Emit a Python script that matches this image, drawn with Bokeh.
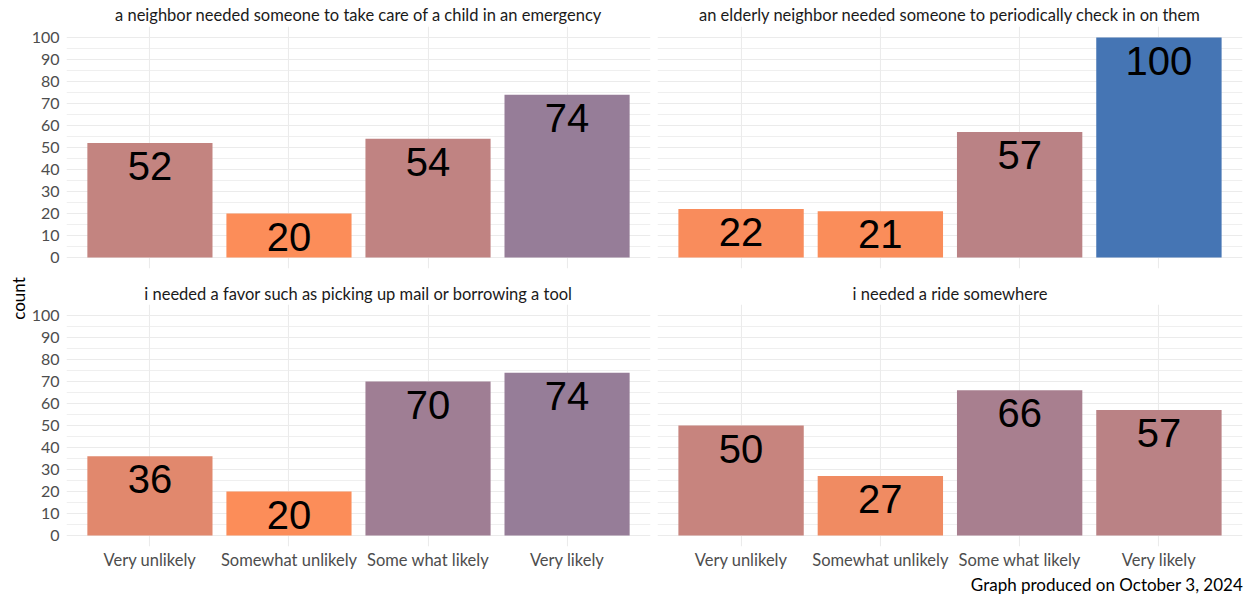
import math
from bokeh.plotting import figure
from bokeh.models import ColumnDataSource, FactorRange, Range1d, FixedTicker, Title
from bokeh.layouts import row, column
from bokeh.core.properties import value
from bokeh.embed import file_html
from bokeh.resources import INLINE

# ---------------- data ----------------
categories = ["Very unlikely", "Somewhat unlikely", "Some what likely", "Very likely"]
panel_titles = [
    "a neighbor needed someone to take care of a child in an emergency",
    "an elderly neighbor needed someone to periodically check in on them",
    "i needed a favor such as picking up mail or borrowing a tool",
    "i needed a ride somewhere",
]
counts_child = [52, 20, 54, 74]
counts_elderly = [22, 21, 57, 100]
counts_favor = [36, 20, 70, 74]
counts_ride = [50, 27, 66, 57]
all_counts = [counts_child, counts_elderly, counts_favor, counts_ride]
y_ticks = [0, 10, 20, 30, 40, 50, 60, 70, 80, 90, 100]
y_minor = [-5, 5, 15, 25, 35, 45, 55, 65, 75, 85, 95, 105]
y_label = "count"
caption = "Graph produced on October  3, 2024"
low_col, high_col = "#fc8d59", "#4575b4"

# ---------------- colour scale (Lab interpolation like ggplot) ----------------
def _hex2rgb(h):
    h = h.lstrip("#")
    return [int(h[i:i + 2], 16) / 255 for i in (0, 2, 4)]

def _lin(c):
    return c / 12.92 if c <= 0.04045 else ((c + 0.055) / 1.055) ** 2.4

def _delin(c):
    c = max(0.0, min(1.0, c))
    return 12.92 * c if c <= 0.0031308 else 1.055 * c ** (1 / 2.4) - 0.055

WX, WY, WZ = 0.95047, 1.0, 1.08883

def _rgb2lab(rgb):
    r, g, b = [_lin(c) for c in rgb]
    X = 0.4124 * r + 0.3576 * g + 0.1805 * b
    Y = 0.2126 * r + 0.7152 * g + 0.0722 * b
    Z = 0.0193 * r + 0.1192 * g + 0.9505 * b
    def f(t):
        return t ** (1 / 3) if t > 0.008856 else 7.787 * t + 16 / 116
    fx, fy, fz = f(X / WX), f(Y / WY), f(Z / WZ)
    return [116 * fy - 16, 500 * (fx - fy), 200 * (fy - fz)]

def _lab2rgb(lab):
    L, a, b = lab
    fy = (L + 16) / 116
    fx = fy + a / 500
    fz = fy - b / 200
    def finv(t):
        return t ** 3 if t ** 3 > 0.008856 else (t - 16 / 116) / 7.787
    X, Y, Z = WX * finv(fx), WY * finv(fy), WZ * finv(fz)
    r = 3.2406 * X - 1.5372 * Y - 0.4986 * Z
    g = -0.9689 * X + 1.8758 * Y + 0.0415 * Z
    bb = 0.0557 * X - 0.2040 * Y + 1.0570 * Z
    return "#%02x%02x%02x" % tuple(int(round(_delin(c) * 255)) for c in (r, g, bb))

lo_lab, hi_lab = _rgb2lab(_hex2rgb(low_col)), _rgb2lab(_hex2rgb(high_col))
vmin = min(min(c) for c in all_counts)
vmax = max(max(c) for c in all_counts)

def fill_for(v):
    t = (v - vmin) / (vmax - vmin)
    return _lab2rgb([lo + (hi - lo) * t for lo, hi in zip(lo_lab, hi_lab)])

# ---------------- panels ----------------
FONT = "Lato"
GRID = "#ebebeb"

def make_panel(idx, width, height, left, right, top, bottom, show_y, show_x, title_standoff):
    counts = all_counts[idx]
    src = ColumnDataSource(dict(cat=categories, count=counts,
                                label=[str(c) for c in counts],
                                fill=[fill_for(c) for c in counts]))
    p = figure(width=width, height=height, output_backend="svg", toolbar_location=None,
               x_range=FactorRange(factors=categories, range_padding=0.1,
                                   range_padding_units="absolute"),
               y_range=Range1d(-5, 105),
               min_border_left=left, min_border_right=right,
               min_border_top=top, min_border_bottom=bottom)
    p.outline_line_color = None
    p.background_fill_color = "white"
    p.vbar(x="cat", top="count", width=0.9, fill_color="fill", line_color=None, source=src)
    p.text(x="cat", y="count", text="label", source=src, text_align="center",
           text_baseline="middle", y_offset=23, text_font=value("Liberation Sans"),
           text_font_size="40px", text_color="black")

    t = Title(text=panel_titles[idx], align="center", text_font=FONT,
              text_font_size="16.5px", text_font_style="normal", text_color="#1a1a1a",
              standoff=title_standoff, offset=0)
    p.add_layout(t, "above")

    p.yaxis.ticker = FixedTicker(ticks=y_ticks, minor_ticks=y_minor)
    p.yaxis.axis_line_color = None
    p.yaxis.major_tick_line_color = None
    p.yaxis.minor_tick_line_color = None
    p.yaxis.major_tick_out = 0
    p.yaxis.minor_tick_out = 0
    p.yaxis.major_label_text_font = FONT
    p.yaxis.major_label_text_font_size = "16px"
    p.yaxis.major_label_text_color = "#4d4d4d"
    p.yaxis.major_label_standoff = 7
    p.yaxis.visible = show_y

    p.xaxis.axis_line_color = None
    p.xaxis.major_tick_line_color = None
    p.xaxis.minor_tick_line_color = None
    p.xaxis.major_tick_out = 0
    p.xaxis.minor_tick_out = 0
    p.xaxis.major_label_text_font = FONT
    p.xaxis.major_label_text_font_size = "16.5px"
    p.xaxis.major_label_text_color = "#4d4d4d"
    p.xaxis.major_label_standoff = 3
    p.xaxis.visible = show_x

    p.ygrid.grid_line_color = GRID
    p.ygrid.grid_line_width = 1.1
    p.ygrid.minor_grid_line_color = GRID
    p.ygrid.minor_grid_line_width = 0.8
    p.xgrid.grid_line_color = GRID
    p.xgrid.grid_line_width = 1.1
    return p

TOP_H, BOT_H, CAP_H = 280, 292, 26
CW, LW, RW = 28, 624, 598

tl = make_panel(0, LW, TOP_H, 37, 2, 26, 12, True, False, 4)
tr = make_panel(1, RW, TOP_H, 5, 8, 26, 12, False, False, 4)
bl = make_panel(2, LW, BOT_H, 37, 2, 24, 26, True, True, 2)
br = make_panel(3, RW, BOT_H, 5, 8, 24, 26, False, True, 2)

# y-axis title shared by both rows
cf = figure(width=CW, height=TOP_H + BOT_H, output_backend="svg", toolbar_location=None,
            x_range=Range1d(0, CW), y_range=Range1d(0, TOP_H + BOT_H), min_border=0)
cf.axis.visible = False
cf.grid.visible = False
cf.outline_line_color = None
cf.text(x=[18], y=[274], text=[y_label], angle=math.pi / 2, text_align="center",
        text_baseline="middle", text_font=value(FONT), text_font_size="17px",
        text_color="black")

# caption line
TOTAL_W = CW + LW + RW
capf = figure(width=TOTAL_W, height=CAP_H, output_backend="svg", toolbar_location=None,
              x_range=Range1d(0, TOTAL_W), y_range=Range1d(0, CAP_H), min_border=0)
capf.axis.visible = False
capf.grid.visible = False
capf.outline_line_color = None
capf.text(x=[TOTAL_W - 3], y=[14], text=[caption], text_align="right",
          text_baseline="middle", text_font=value(FONT), text_font_size="17px",
          text_color="black")

layout = column(row(cf, column(row(tl, tr), row(bl, br))), capf)

open("out.html", "w").write(file_html(layout, INLINE))
